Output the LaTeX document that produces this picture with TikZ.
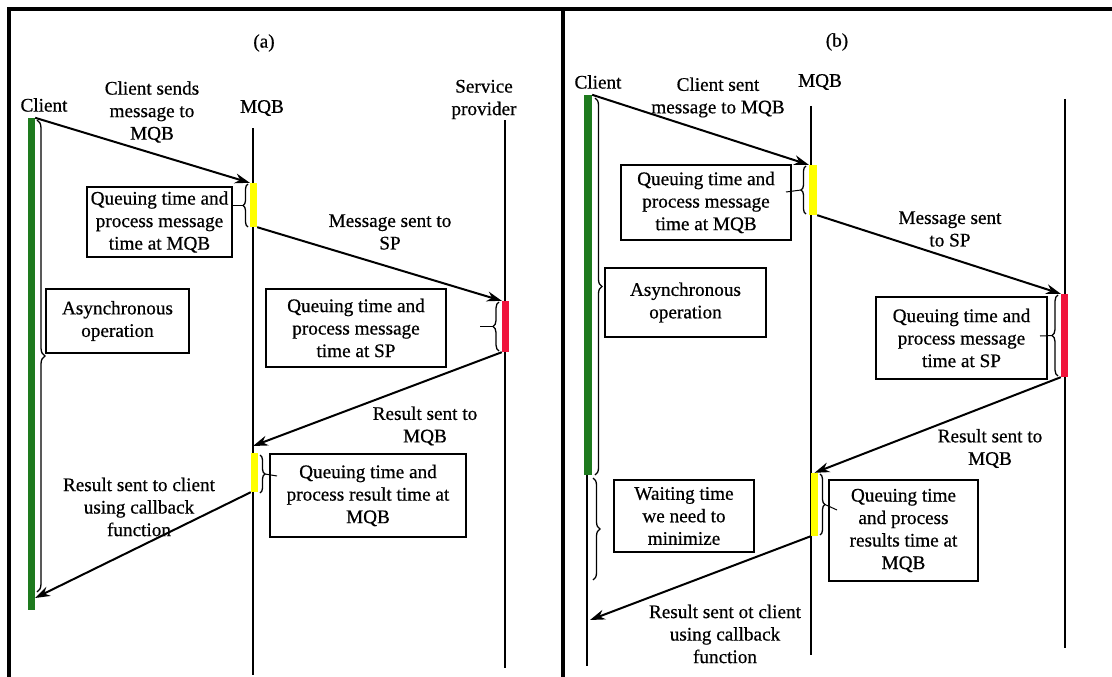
\documentclass[tikz,border=0pt]{standalone}
\usepackage{fontspec}
\setmainfont{Liberation Serif}[FakeBold=0.6]
\usetikzlibrary{arrows.meta,decorations.pathreplacing}
\definecolor{barGreen}{RGB}{30,122,30}
\definecolor{barRed}{RGB}{240,20,60}
\definecolor{barYellow}{RGB}{255,255,0}
\begin{document}
\begin{tikzpicture}[>={Stealth[length=15pt,width=10pt]},x=1pt,y=-1pt,
	font=\fontsize{19.2}{22.5}\selectfont,
	lbl/.style={align=center,inner sep=0pt},
	box/.style={draw,line width=2pt,align=center,inner sep=0pt},
	bar/.style={inner sep=0pt,minimum width=7pt},
	life/.style={line width=2.4pt},
	frame/.style={line width=3.2pt},
	msg/.style={->,line width=2pt},
	brc/.style={decorate,decoration={brace,amplitude=#1},line width=1.3pt},
	brc/.default=6pt]
	\useasboundingbox (0,0) rectangle (1112,677);
	\draw[frame] (9,677) -- (9,9) -- (1112,9);
	\draw[frame] (563,9) -- (563,677); % chia hai khung
	% ---- khung (a)
	\node[lbl] (tA) at (264,43) {(a)};
	\node[lbl] (cliA) at (44,105) {Client};
	\node[lbl] (mqbA) at (262,108) {MQB};
	\node[lbl] (spA) at (484,99.5) {Service\\provider};
	\draw[life] (253,128) -- (253,675);
	\draw[life] (505,120) -- (505,668);
	\node[bar,fill=barGreen,minimum width=7.5pt,minimum height=492pt] (gA) at (31.25,364) {};
	\node[bar,fill=barYellow,minimum height=44pt] (yA1) at (253.5,205) {};
	\node[bar,fill=barRed,minimum height=51pt] (rA) at (505.5,326.5) {};
	\node[bar,fill=barYellow,minimum height=39pt] (yA2) at (254.5,472.5) {};
	\node[box,minimum width=145pt,minimum height=70pt] (qA1) at (159.5,222) {Queuing time and\\process message\\time at MQB};
	\node[box,minimum width=143pt,minimum height=64pt] (asA) at (117.5,321) {Asynchronous\\operation};
	\node[box,minimum width=180pt,minimum height=78pt] (qA2) at (356,328) {Queuing time and\\process message\\time at SP};
	\node[box,minimum width=196pt,minimum height=83pt] (qA3) at (368,495.5) {Queuing time and\\process result time at\\MQB};
	\node[lbl] (l1A) at (152,112) {Client sends\\message to\\MQB};
	\node[lbl] (l2A) at (390,232) {Message sent to\\SP};
	\node[lbl] (l3A) at (425,426) {Result sent to\\MQB};
	\node[lbl] (l4A) at (139,507) {Result sent to client\\using callback\\function};
	\coordinate (eA3) at (253,446);
	\coordinate (eA4) at (35,598);
	\draw[msg] (gA.north east) -- (yA1.north west);
	\draw[msg] (yA1.south east) -- (rA.north west);
	\draw[msg] (rA.south west) -- (eA3);
	\draw[msg] (yA2.south west) -- (eA4);
	\draw[brc=8pt] (37,120) -- (37,592);
	\draw[brc=5pt] (248,227) -- (248,184);
	\draw[brc] (499,351) -- (499,302);
	\draw[brc=5pt] (260,455) -- (260,493);
	\coordinate (pA1) at (243,205.5); \coordinate (pA2) at (493,326.5); \coordinate (pA3) at (265,474);
	\coordinate (fA2) at (480,326.5); \coordinate (fA3) at (277,476);
	\draw[line width=1pt] (pA1) -- (pA1 -| qA1.east);
	\draw[line width=1pt] (pA2) -- (fA2);
	\draw[line width=1pt] (pA3) -- (fA3);
	% ---- khung (b)
	\node[lbl] (tB) at (837,42) {(b)};
	\node[lbl] (cliB) at (598,82) {Client};
	\node[lbl] (mqbB) at (820,82) {MQB};
	\draw[life] (587,97) -- (587,666);
	\draw[life] (811,106) -- (811,655);
	\draw[life] (1065,99) -- (1065,648);
	\node[bar,fill=barGreen,minimum width=8pt,minimum height=380pt] (gB) at (588,285) {};
	\node[bar,fill=barYellow,minimum width=8pt,minimum height=50pt] (yB1) at (813,190) {};
	\node[bar,fill=barRed,minimum height=83pt] (rB) at (1064.5,335.5) {};
	\node[bar,fill=barYellow,minimum height=63pt] (yB2) at (814.5,504.5) {};
	\node[box,minimum width=170pt,minimum height=75pt] (qB1) at (706,202.5) {Queuing time and\\process message\\time at MQB};
	\node[box,minimum width=161pt,minimum height=69pt] (asB) at (685.5,302.5) {Asynchronous\\operation};
	\node[box,minimum width=171pt,minimum height=82pt] (qB2) at (961.5,338) {Queuing time and\\process message\\time at SP};
	\node[box,minimum width=149pt,minimum height=101pt] (qB3) at (903.5,530.5) {Queuing time\\and process\\results time at\\MQB};
	\node[box,minimum width=140pt,minimum height=72pt] (wB) at (684,516) {Waiting time\\we need to\\minimize};
	\node[lbl] (l1B) at (718,97.5) {Client sent\\message to MQB};
	\node[lbl] (l2B) at (950,229) {Message sent\\to SP};
	\node[lbl] (l3B) at (990,448.5) {Result sent to\\MQB};
	\node[lbl] (l4B) at (725,634) {Result sent ot client\\using callback\\function};
	\coordinate (eB4) at (590,620);
	\draw[msg] (gB.north east) -- (yB1.north west);
	\draw[msg] (yB1.south east) -- (rB.north west);
	\draw[msg] (rB.south west) -- (yB2.north);
	\draw[msg] (yB2.south west) -- (eB4);
	\draw[brc=7pt] (595,98) -- (595,475);
	\draw[brc=7pt] (593,478) -- (593,580);
	\draw[brc=5pt] (806,214) -- (806,166);
	\draw[brc] (1058,376) -- (1058,295);
	\draw[brc=5pt] (820,474) -- (820,535);
	\coordinate (pB1) at (801,190); \coordinate (pB2) at (1052,335.5); \coordinate (pB3) at (825,504.5);
	\coordinate (fB1) at (786,192); \coordinate (fB2) at (1040,336); \coordinate (fB3) at (837,510);
	\draw[line width=1pt] (pB1) -- (fB1);
	\draw[line width=1pt] (pB2) -- (fB2);
	\draw[line width=1pt] (pB3) -- (fB3);
\end{tikzpicture}
\end{document}
